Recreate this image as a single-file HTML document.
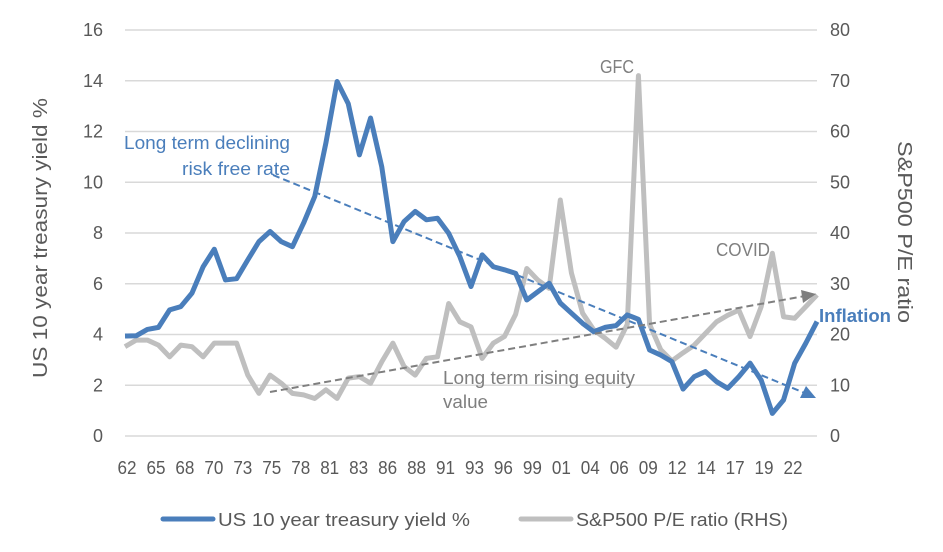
<!DOCTYPE html>
<html><head><meta charset="utf-8"><style>
html,body{margin:0;padding:0;background:#fff;}
svg{display:block;font-family:"Liberation Sans",sans-serif;}
</style></head><body>
<svg id="chart" width="943" height="552">
<g id="grid"></g>
<g id="lt"></g>
<g id="rt"></g>
<g id="xt"></g>
<g id="series"></g>
<line x1="273" y1="175" x2="812" y2="396" stroke="#4a7ebb" stroke-width="2" stroke-dasharray="7,4"/>
<polygon points="816,398 800,398 806,386" fill="#4a7ebb"/>
<line x1="270" y1="392" x2="805" y2="296" stroke="#7f7f7f" stroke-width="2" stroke-dasharray="7,4"/>
<polygon points="816,294 801,290 803,303" fill="#7f7f7f"/>
<text x="124" y="149" font-size="18" fill="#4a7ebb" textLength="166" lengthAdjust="spacingAndGlyphs">Long term declining</text>
<text x="182" y="175" font-size="18" fill="#4a7ebb" textLength="108" lengthAdjust="spacingAndGlyphs">risk free rate</text>
<text x="443" y="384" font-size="18" fill="#7f7f7f" textLength="192" lengthAdjust="spacingAndGlyphs">Long term rising equity</text>
<text x="443" y="408" font-size="18" fill="#7f7f7f" textLength="45" lengthAdjust="spacingAndGlyphs">value</text>
<text x="600" y="73" font-size="18" fill="#7f7f7f" textLength="34" lengthAdjust="spacingAndGlyphs">GFC</text>
<text x="716" y="256" font-size="18" fill="#7f7f7f" textLength="54" lengthAdjust="spacingAndGlyphs">COVID</text>
<text x="819" y="322" font-size="18" font-weight="bold" fill="#4a7ebb" textLength="72" lengthAdjust="spacingAndGlyphs">Inflation</text>
<text transform="translate(47,238) rotate(-90)" font-size="20" fill="#595959" text-anchor="middle" textLength="280" lengthAdjust="spacingAndGlyphs">US 10 year treasury yield %</text>
<text transform="translate(898,232) rotate(90)" font-size="20" fill="#595959" text-anchor="middle" textLength="182" lengthAdjust="spacingAndGlyphs">S&amp;P500 P/E ratio</text>
<g>
<line x1="163" y1="519" x2="213" y2="519" stroke="#4a7ebb" stroke-width="5" stroke-linecap="round"/>
<text x="218" y="526" font-size="18" fill="#595959" textLength="252" lengthAdjust="spacingAndGlyphs">US 10 year treasury yield %</text>
<line x1="521" y1="519" x2="571" y2="519" stroke="#bfbfbf" stroke-width="5" stroke-linecap="round"/>
<text x="576" y="526" font-size="18" fill="#595959" textLength="212" lengthAdjust="spacingAndGlyphs">S&amp;P500 P/E ratio (RHS)</text>
</g>
</svg>
<script>
const startYear = 1962;
const yieldVals = [3.94,3.95,4.2,4.28,4.97,5.1,5.63,6.67,7.36,6.15,6.2,6.94,7.66,8.06,7.66,7.46,8.39,9.44,11.55,13.97,13.1,11.08,12.53,10.62,7.66,8.45,8.85,8.52,8.58,7.99,7.07,5.89,7.14,6.67,6.55,6.41,5.36,5.69,6.02,5.24,4.84,4.44,4.11,4.28,4.35,4.77,4.6,3.39,3.19,2.93,1.85,2.34,2.54,2.14,1.88,2.34,2.87,2.2,0.89,1.42,2.87,3.66,4.51];
const peVals = [17.6,18.9,18.9,17.9,15.6,17.9,17.6,15.6,18.3,18.3,18.3,12.0,8.4,12.0,10.4,8.4,8.1,7.4,9.1,7.4,11.4,11.7,10.4,14.6,18.3,13.7,12.0,15.3,15.6,26.1,22.5,21.5,15.3,18.3,19.6,24,33.0,30.7,29.1,46.5,32.1,24.2,20.9,19.3,17.5,22,71,22,17,14.8,16.4,17.9,20.2,22.5,23.8,24.8,19.6,25.5,36,23.5,23.2,25.5,27.8];
const leftTicks = [0,2,4,6,8,10,12,14,16];
const rightTicks = [0,10,20,30,40,50,60,70,80];
const xLabels = ["62","65","68","70","73","75","78","81","83","86","88","91","93","96","99","01","04","06","09","12","14","17","19","22"];
const X0=125,X1=817,Y0=436,Ytop=30;
const n=yieldVals.length;
const x=i=>X0+(X1-X0)*i/(n-1);
const yl=v=>Y0-(Y0-Ytop)*v/16;
const yr=v=>Y0-(Y0-Ytop)*v/80;
const xl=k=>127+(793-127)*k/(xLabels.length-1);
const NS="http://www.w3.org/2000/svg";
function mk(t,a,p){const e=document.createElementNS(NS,t);for(const k in a)e.setAttribute(k,a[k]);p.appendChild(e);return e;}
const grid=document.getElementById('grid'),lt=document.getElementById('lt'),rt=document.getElementById('rt'),xt=document.getElementById('xt'),ser=document.getElementById('series');
leftTicks.forEach(v=>{
  const g=mk('line',{x1:X0,x2:X1,y1:yl(v),y2:yl(v),stroke:'#d9d9d9','stroke-width':1.5},grid);
  
  
  const t=mk('text',{x:103,y:yl(v)+6,'font-size':18,fill:'#595959','text-anchor':'end'},lt);t.textContent=v;
  
  
});
rightTicks.forEach(v=>{
  const t=mk('text',{x:830,y:yr(v)+6,'font-size':18,fill:'#595959'},rt);t.textContent=v;
  
  
});
xLabels.forEach((l,k)=>{
  const t=mk('text',{x:xl(k),y:474,'font-size':18,fill:'#595959','text-anchor':'middle',textLength:19,lengthAdjust:'spacingAndGlyphs'},xt);t.textContent=l;
  
  
});
const pe=mk('polyline',{points:peVals.map((v,i)=>x(i)+','+yr(v)).join(' '),fill:'none',stroke:'#bfbfbf','stroke-width':5,'stroke-linejoin':'round'},ser);


const yd=mk('polyline',{points:yieldVals.map((v,i)=>x(i)+','+yl(v)).join(' '),fill:'none',stroke:'#4a7ebb','stroke-width':5,'stroke-linejoin':'round'},ser);


</script>
</body></html>
